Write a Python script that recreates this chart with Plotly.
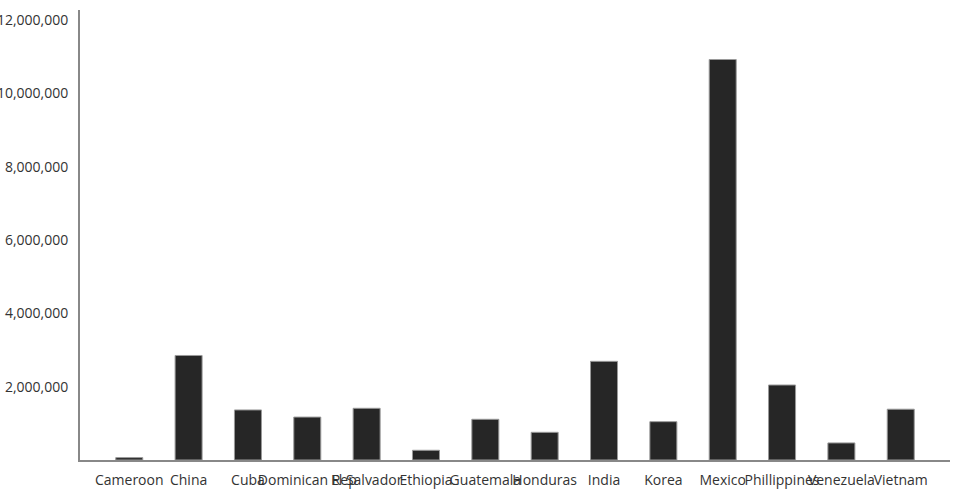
import plotly.graph_objects as go

countries = ["Cameroon", "China", "Cuba", "Dominican Rep", "El Salvador", "Ethiopia",
             "Guatemala", "Honduras", "India", "Korea", "Mexico", "Phillippines",
             "Venezuela", "Vietnam"]
population = [65000, 2850000, 1365000, 1170000, 1410000, 265000,
              1110000, 755000, 2690000, 1045000, 10920000, 2045000,
              465000, 1385000]
y_ticks = [2000000, 4000000, 6000000, 8000000, 10000000, 12000000]

fig = go.Figure(go.Bar(
    x=countries, y=population, width=0.455,
    marker=dict(color="#262626", line=dict(color="#9a9a9a", width=1)),
))
fig.update_layout(
    width=960, height=500,
    margin=dict(l=80, r=10, t=10, b=40),
    paper_bgcolor="white", plot_bgcolor="white",
    font=dict(family="Open Sans", size=14, color="#333333"),
    showlegend=False,
)
fig.update_xaxes(
    type="category", range=[-0.83, 13.83], tickangle=0, automargin=False,
    showline=True, linecolor="#888888", linewidth=2, showgrid=False,
    ticks="", ticklabelstandoff=6, zeroline=False,
)
fig.update_yaxes(
    range=[0, 12270000], tickvals=y_ticks, tickformat=",", automargin=False,
    showline=True, linecolor="#888888", linewidth=2, showgrid=False,
    ticks="", ticklabelstandoff=7, zeroline=False,
)
fig.write_html("out.html", config={"displayModeBar": False},
               post_script="document.body.style.margin='0';")
